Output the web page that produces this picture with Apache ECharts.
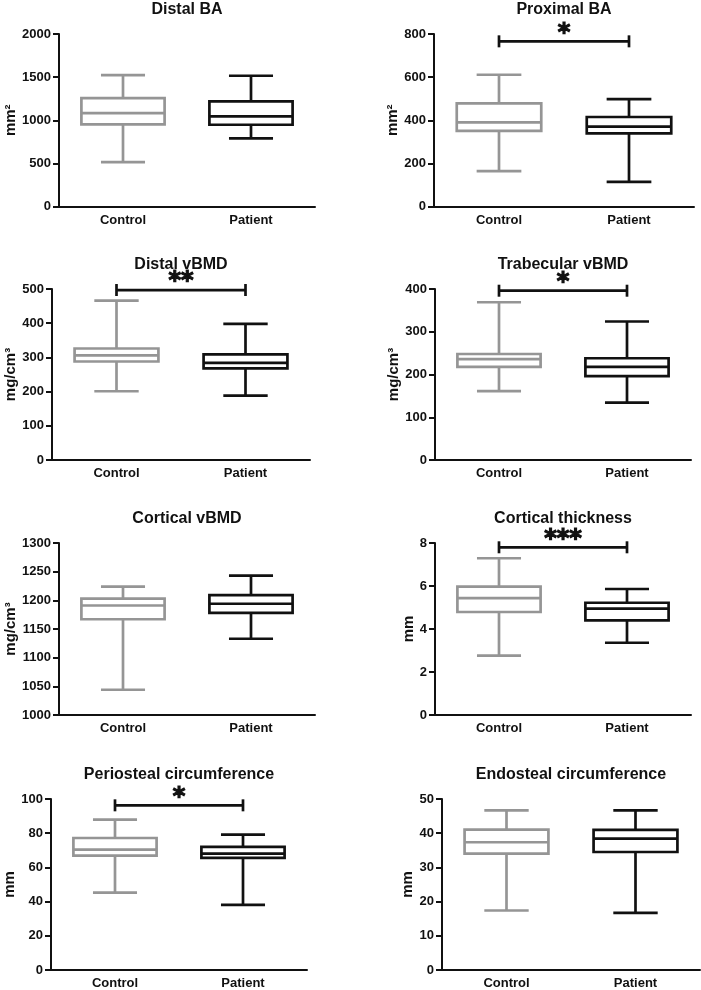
<!DOCTYPE html>
<html><head><meta charset="utf-8">
<script src="https://cdn.jsdelivr.net/npm/echarts@6/dist/echarts.min.js"></script>
<style>html,body{margin:0;padding:0;background:#fff}#c{width:701px;height:990px}</style>
</head><body><div id="c"></div>
<script>
// ---------- data ----------
const categories = ['Control', 'Patient'];
const panelTitles = ['Distal BA', 'Proximal BA', 'Distal vBMD', 'Trabecular vBMD',
  'Cortical vBMD', 'Cortical thickness', 'Periosteal circumference', 'Endosteal circumference'];
const yAxisNames = ['mm²', 'mm²', 'mg/cm³', 'mg/cm³', 'mg/cm³', 'mm', 'mm', 'mm'];
const yMins = [0, 0, 0, 0, 1000, 0, 0, 0];
const yMaxs = [2000, 800, 500, 400, 1300, 8, 100, 50];
const yIntervals = [500, 200, 100, 100, 50, 2, 20, 10];

// [min, Q1, median, Q3, max]
const distalBA_control = [514, 952, 1083, 1257, 1524];
const distalBA_patient = [789, 948, 1044, 1219, 1516];
const proximalBA_control = [164, 351, 390, 478, 611];
const proximalBA_patient = [114, 339, 370, 415, 498];
const distalVBMD_control = [201, 288, 306, 326, 466];
const distalVBMD_patient = [188, 268, 284, 309, 398];
const trabecularVBMD_control = [161, 218, 236, 248, 369];
const trabecularVBMD_patient = [134, 196, 218, 238, 324];
const corticalVBMD_control = [1044, 1167, 1191, 1203, 1224];
const corticalVBMD_patient = [1133, 1178, 1194, 1209, 1243];
const corticalThickness_control = [2.76, 4.79, 5.44, 5.97, 7.29];
const corticalThickness_patient = [3.36, 4.40, 4.95, 5.22, 5.86];
const periostealCirc_control = [45.3, 66.9, 70.4, 77.2, 87.9];
const periostealCirc_patient = [38.1, 65.6, 68.1, 72.0, 79.2];
const endostealCirc_control = [17.4, 34.05, 37.35, 41.05, 46.7];
const endostealCirc_patient = [16.7, 34.5, 38.4, 40.95, 46.7];

const controlStats = [distalBA_control, proximalBA_control, distalVBMD_control, trabecularVBMD_control,
  corticalVBMD_control, corticalThickness_control, periostealCirc_control, endostealCirc_control];
const patientStats = [distalBA_patient, proximalBA_patient, distalVBMD_patient, trabecularVBMD_patient,
  corticalVBMD_patient, corticalThickness_patient, periostealCirc_patient, endostealCirc_patient];

// significance brackets
const bracketPanels = [1, 2, 3, 5, 6];
const bracketFrom = [0.02, 0, 0, 0, 0];
const bracketTo = [1, 1.067, 1, 1.03, 1.06];
const bracketY = [766, 497, 396, 7.8, 96.3];
const bracketStars = ['*', '**', '*', '***', '*'];

// ---------- layout ----------
const grids = [
  {left: 59, top: 34, width: 256, height: 172.5},
  {left: 434, top: 34, width: 260, height: 172.5},
  {left: 52, top: 289, width: 258, height: 171},
  {left: 435, top: 289, width: 256, height: 171},
  {left: 59, top: 543, width: 256, height: 172},
  {left: 435, top: 543, width: 256, height: 172},
  {left: 51, top: 799, width: 256, height: 171},
  {left: 442, top: 799, width: 258, height: 171}
];
const nameGaps = [37, 29, 33, 31.5, 38, 16.5, 30.5, 23];
const FONT = '"Liberation Sans", Arial, sans-serif';
const GRAY = '#959595', BLACK = '#111111', LW = 2.7;

function renderBox(params, api) {
  const c = api.value(0);
  const p = [1, 2, 3, 4, 5].map(k => api.coord([c, api.value(k)]));
  const cx = p[0][0];
  const band = api.size([1, 0])[0];
  const bw = band * 0.325, cw = band * 0.172;
  const color = c === 0 ? GRAY : BLACK;
  const st = {stroke: color, lineWidth: LW, fill: null};
  const yMin = p[0][1], yQ1 = p[1][1], yMed = p[2][1], yQ3 = p[3][1], yMax = p[4][1];
  return {type: 'group', children: [
    {type: 'line', shape: {x1: cx, y1: yQ3, x2: cx, y2: yMax}, style: st},
    {type: 'line', shape: {x1: cx, y1: yQ1, x2: cx, y2: yMin}, style: st},
    {type: 'line', shape: {x1: cx - cw, y1: yMax, x2: cx + cw, y2: yMax}, style: st},
    {type: 'line', shape: {x1: cx - cw, y1: yMin, x2: cx + cw, y2: yMin}, style: st},
    {type: 'rect', shape: {x: cx - bw, y: yQ3, width: 2 * bw, height: yQ1 - yQ3},
      style: {stroke: color, lineWidth: LW, fill: '#ffffff'}},
    {type: 'line', shape: {x1: cx - bw, y1: yMed, x2: cx + bw, y2: yMed}, style: st}
  ]};
}

function makeBracketRenderer(bi) {
  return function (params, api) {
    const a = api.coord([api.value(0), api.value(2)]);
    const b = api.coord([api.value(1), api.value(2)]);
    const st = {stroke: BLACK, lineWidth: LW, fill: null};
    const h = 6;
    return {type: 'group', children: [
      {type: 'line', shape: {x1: a[0], y1: a[1], x2: b[0], y2: b[1]}, style: st},
      {type: 'line', shape: {x1: a[0], y1: a[1] - h, x2: a[0], y2: a[1] + h}, style: st},
      {type: 'line', shape: {x1: b[0], y1: b[1] - h, x2: b[0], y2: b[1] + h}, style: st},
      {type: 'text', x: (a[0] + b[0]) / 2, y: a[1] - 8,
        style: {text: bracketStars[bi], fill: BLACK, stroke: BLACK, lineWidth: 1.2,
          align: 'center', verticalAlign: 'middle',
          font: 'bold 24px "DejaVu Sans", sans-serif'}}
    ]};
  };
}

const option = {
  animation: false,
  backgroundColor: '#ffffff',
  grid: grids.map(g => Object.assign({containLabel: false}, g)),
  graphic: grids.map((g, i) => ({
    type: 'text', x: g.left + g.width / 2, y: g.top - 24.5,
    style: {text: panelTitles[i], fill: BLACK, align: 'center', verticalAlign: 'middle',
      font: 'bold 16px ' + FONT}
  })),
  xAxis: grids.map((g, i) => ({
    type: 'category', gridIndex: i, data: categories, boundaryGap: true,
    axisLine: {lineStyle: {color: BLACK, width: 2}},
    axisTick: {alignWithLabel: true, length: 5, lineStyle: {color: BLACK, width: 2}},
    axisLabel: {color: BLACK, fontFamily: FONT, fontWeight: 'bold', fontSize: 13, margin: 7},
    splitLine: {show: false}
  })),
  yAxis: grids.map((g, i) => ({
    type: 'value', gridIndex: i, min: yMins[i], max: yMaxs[i], interval: yIntervals[i],
    name: yAxisNames[i], nameLocation: 'middle', nameRotate: 90, nameGap: nameGaps[i],
    nameTextStyle: {color: BLACK, fontFamily: FONT, fontWeight: 'bold', fontSize: 15},
    axisLine: {show: true, lineStyle: {color: BLACK, width: 2}},
    axisTick: {show: true, length: 6, lineStyle: {color: BLACK, width: 2}},
    axisLabel: {color: BLACK, fontFamily: FONT, fontWeight: 'bold', fontSize: 13, margin: 8,
      formatter: v => String(v)},
    splitLine: {show: false}
  })),
  series: []
};

for (let i = 0; i < 8; i++) {
  option.series.push({
    type: 'custom', xAxisIndex: i, yAxisIndex: i, renderItem: renderBox,
    data: [[0].concat(controlStats[i]), [1].concat(patientStats[i])]
  });
}
bracketPanels.forEach((pi, bi) => {
  option.series.push({
    type: 'custom', xAxisIndex: pi, yAxisIndex: pi, renderItem: makeBracketRenderer(bi),
    data: [[bracketFrom[bi], bracketTo[bi], bracketY[bi]]]
  });
});

const chart = echarts.init(document.getElementById('c'), null, {renderer: 'canvas'});
chart.setOption(option);
</script></body></html>
